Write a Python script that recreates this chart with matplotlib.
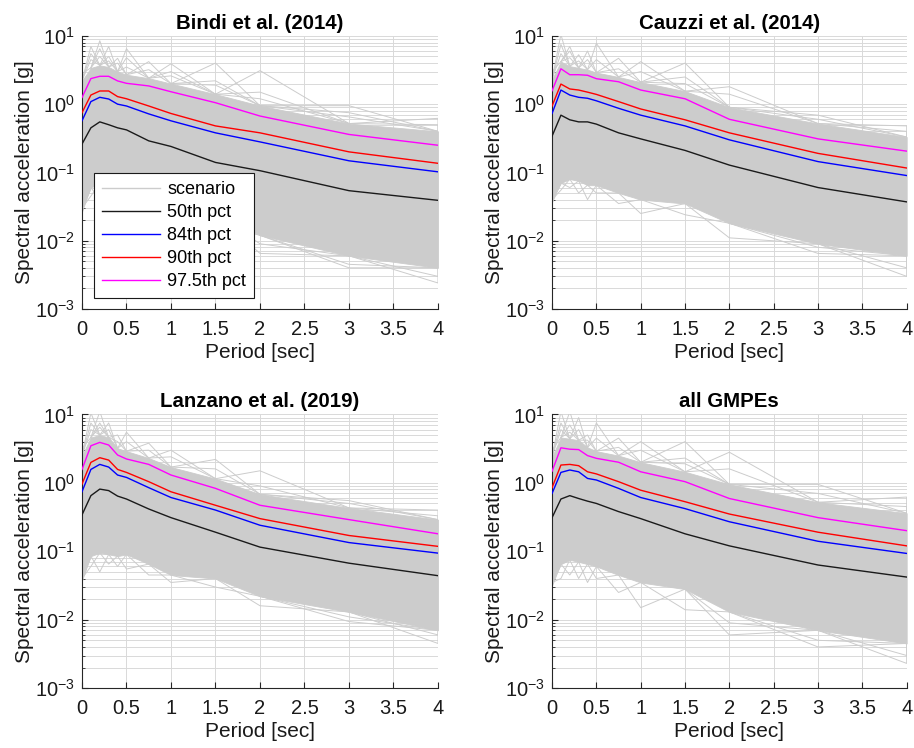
import numpy as np
import matplotlib.pyplot as plt
from matplotlib.ticker import LogLocator, LogFormatterMathtext, NullFormatter

plt.rcParams['font.family'] = ['Liberation Sans', 'DejaVu Sans']
plt.rcParams['mathtext.fontset'] = 'custom'
plt.rcParams['mathtext.rm'] = 'Liberation Sans'
plt.rcParams['mathtext.it'] = 'Liberation Sans:italic'
plt.rcParams['mathtext.bf'] = 'Liberation Sans:bold'

# spectral periods [s]
periods = [0, 0.1, 0.2, 0.3, 0.4, 0.5, 0.75, 1, 1.5, 2, 3, 4]

titles = ['Bindi et al. (2014)', 'Cauzzi et al. (2014)',
          'Lanzano et al. (2019)', 'all GMPEs']

# percentile spectra [g]
p50 = [
    [0.26, 0.45, 0.55, 0.50, 0.45, 0.42, 0.29, 0.24, 0.14, 0.106, 0.054, 0.039],
    [0.34, 0.69, 0.59, 0.55, 0.55, 0.51, 0.38, 0.31, 0.21, 0.128, 0.060, 0.037],
    [0.34, 0.65, 0.81, 0.77, 0.64, 0.58, 0.415, 0.31, 0.19, 0.115, 0.067, 0.044],
    [0.31, 0.58, 0.65, 0.59, 0.54, 0.50, 0.38, 0.30, 0.18, 0.12, 0.063, 0.042],
]
p84 = [
    [0.57, 1.09, 1.26, 1.19, 1.00, 0.94, 0.72, 0.57, 0.38, 0.28, 0.148, 0.102],
    [0.73, 1.61, 1.36, 1.26, 1.22, 1.12, 0.87, 0.69, 0.48, 0.30, 0.144, 0.090],
    [0.74, 1.57, 1.86, 1.70, 1.30, 1.20, 0.85, 0.61, 0.40, 0.24, 0.134, 0.094],
    [0.70, 1.42, 1.54, 1.45, 1.16, 1.10, 0.83, 0.61, 0.42, 0.27, 0.140, 0.093],
]
p90 = [
    [0.75, 1.36, 1.56, 1.56, 1.29, 1.20, 0.94, 0.73, 0.48, 0.38, 0.20, 0.136],
    [0.94, 1.97, 1.67, 1.61, 1.50, 1.39, 1.09, 0.85, 0.59, 0.38, 0.19, 0.116],
    [0.96, 1.99, 2.33, 2.15, 1.57, 1.42, 1.04, 0.74, 0.47, 0.30, 0.17, 0.118],
    [0.85, 1.82, 1.86, 1.78, 1.45, 1.35, 1.04, 0.78, 0.53, 0.35, 0.19, 0.120],
]
p975 = [
    [1.25, 2.37, 2.56, 2.56, 2.19, 2.02, 1.85, 1.52, 1.05, 0.67, 0.36, 0.25],
    [1.57, 3.30, 2.70, 2.70, 2.65, 2.36, 2.13, 1.61, 1.20, 0.60, 0.31, 0.205],
    [1.57, 3.48, 3.90, 3.57, 2.55, 2.23, 1.86, 1.30, 0.83, 0.47, 0.29, 0.18],
    [1.48, 3.25, 3.10, 3.06, 2.50, 2.28, 2.00, 1.45, 1.04, 0.59, 0.31, 0.20],
]

# bulk of the scenario spectra (upper / lower edge)
scen_hi = [
    [2.2, 3.4, 3.7, 3.5, 3.0, 2.7, 2.4, 2.0, 1.4, 0.95, 0.52, 0.40],
    [2.3, 4.2, 3.6, 3.4, 3.2, 2.9, 2.5, 2.1, 1.55, 0.9, 0.52, 0.33],
    [2.5, 4.6, 5.0, 4.6, 3.2, 2.9, 2.3, 1.7, 1.15, 0.68, 0.43, 0.29],
    [2.4, 4.6, 4.4, 4.2, 3.3, 2.9, 2.5, 2.0, 1.45, 0.95, 0.52, 0.36],
]
scen_lo = [
    [0.03, 0.06, 0.07, 0.065, 0.065, 0.065, 0.05, 0.04, 0.025, 0.012, 0.006, 0.004],
    [0.04, 0.07, 0.08, 0.075, 0.065, 0.065, 0.05, 0.04, 0.035, 0.018, 0.009, 0.006],
    [0.04, 0.085, 0.095, 0.09, 0.085, 0.09, 0.065, 0.045, 0.04, 0.022, 0.013, 0.007],
    [0.035, 0.065, 0.075, 0.07, 0.065, 0.06, 0.045, 0.035, 0.028, 0.013, 0.007, 0.0045],
]

# single scenarios sticking out of the bulk: (period index, Sa)
peaks = [
    [(0, 2.8), (1, 7.0), (1, 5.5), (1, 4.5), (2, 8.5), (2, 6.5), (2, 5.0), (3, 7.0),
     (3, 5.0), (3, 4.3), (4, 4.7), (4, 4.0), (5, 6.5), (5, 4.8), (5, 3.5),
     (6, 4.2), (6, 3.2), (7, 3.9), (7, 3.0), (7, 2.6), (8, 4.0), (8, 2.2), (8, 1.9),
     (9, 3.1), (9, 1.5), (9, 1.2), (10, 0.95), (10, 0.75), (10, 0.65),
     (11, 0.62), (11, 0.5)],
    [(0, 3.0), (1, 10.5), (1, 7.5), (1, 5.5), (2, 7.0), (2, 6.0), (2, 4.8),
     (3, 5.3), (3, 4.3), (4, 6.0), (4, 4.5), (5, 7.8), (5, 4.5), (6, 4.7), (6, 3.3),
     (7, 4.2), (7, 3.0), (8, 4.0), (8, 2.5), (8, 2.0), (9, 1.8), (9, 1.4),
     (10, 0.69), (10, 0.6), (11, 0.48), (11, 0.4)],
    [(0, 3.2), (1, 10.5), (1, 7.5), (1, 6.0), (2, 11.0), (2, 7.5), (2, 6.5),
     (3, 7.5), (3, 6.0), (4, 5.0), (4, 4.0), (5, 5.5), (5, 4.0), (6, 3.8), (6, 3.0),
     (7, 3.0), (7, 2.4), (8, 2.2), (8, 1.6), (9, 1.5), (9, 0.9),
     (10, 0.55), (10, 0.5), (11, 0.4), (11, 0.33)],
    [(0, 3.0), (1, 11.0), (1, 7.5), (1, 6.0), (2, 11.0), (2, 7.0), (2, 5.5),
     (3, 9.0), (3, 6.0), (4, 5.0), (4, 4.2), (5, 7.5), (5, 4.5), (6, 4.5), (6, 3.3),
     (7, 4.0), (7, 3.0), (8, 4.0), (8, 2.3), (8, 1.9), (9, 2.8), (9, 1.6),
     (10, 0.95), (10, 0.7), (11, 0.62), (11, 0.45)],
]
dips = [
    [(0, 0.025), (1, 0.045), (2, 0.04), (3, 0.05), (4, 0.045), (5, 0.04), (6, 0.04),
     (7, 0.03), (8, 0.017), (9, 0.0065), (9, 0.009), (10, 0.004), (10, 0.0045),
     (11, 0.0024), (11, 0.003)],
    [(0, 0.035), (1, 0.055), (2, 0.06), (3, 0.05), (4, 0.04), (5, 0.05), (6, 0.035),
     (7, 0.025), (8, 0.024), (9, 0.011), (10, 0.0065), (10, 0.008),
     (11, 0.003), (11, 0.004)],
    [(0, 0.035), (1, 0.06), (2, 0.05), (3, 0.065), (4, 0.06), (5, 0.055), (6, 0.045),
     (7, 0.035), (8, 0.03), (9, 0.016), (10, 0.0094), (10, 0.011),
     (11, 0.0045), (11, 0.006)],
    [(0, 0.03), (1, 0.04), (2, 0.045), (3, 0.04), (4, 0.035), (5, 0.04), (6, 0.025),
     (7, 0.015), (8, 0.014), (9, 0.006), (9, 0.009), (10, 0.004), (10, 0.005),
     (11, 0.0023), (11, 0.003)],
]

GREY = '#cccccc'
AXCOL = '#262626'
TXT = '#1a1a1a'

fig = plt.figure(figsize=(9.14, 7.48), dpi=100)
positions = [
    [0.0897, 0.587, 0.3895, 0.365],
    [0.604, 0.587, 0.388, 0.365],
    [0.0897, 0.080, 0.3895, 0.366],
    [0.604, 0.080, 0.388, 0.366],
]

T = np.array(periods)
n = len(T)


def spike(edge, idx, val):
    # scenario leaving the bulk at one period and coming back
    lo = max(idx - 1, 0)
    hi = min(idx + 1, n - 1)
    xs = [T[lo], T[idx], T[hi]]
    ys = [edge[lo], val, edge[hi]]
    if lo == idx:
        xs, ys = xs[1:], ys[1:]
    return xs, ys


for k in range(4):
    ax = fig.add_axes(positions[k])
    ax.set_yscale('log')

    ax.fill_between(T, scen_lo[k], scen_hi[k], color=GREY, lw=0.6, zorder=2)
    for idx, val in peaks[k]:
        xs, ys = spike(scen_hi[k], idx, val)
        ax.plot(xs, ys, color=GREY, lw=0.7, zorder=2)
    for idx, val in dips[k]:
        xs, ys = spike(scen_lo[k], idx, val)
        ax.plot(xs, ys, color=GREY, lw=0.7, zorder=2)
    ax.plot([], [], color=GREY, lw=1.0, label='scenario')

    ax.plot(T, p50[k], color=TXT, lw=1.0, zorder=3, label='50th pct')
    ax.plot(T, p84[k], color='#0000ff', lw=1.0, zorder=3, label='84th pct')
    ax.plot(T, p90[k], color='#ff0000', lw=1.0, zorder=3, label='90th pct')
    ax.plot(T, p975[k], color='#ff00ff', lw=1.0, zorder=3, label='97.5th pct')

    ax.set_xlim(0, 4)
    ax.set_ylim(1e-3, 1e1)
    ax.set_xticks(np.arange(0, 4.01, 0.5))
    ax.set_xticklabels(['0', '0.5', '1', '1.5', '2', '2.5', '3', '3.5', '4'])
    ax.yaxis.set_major_locator(LogLocator(base=10, numticks=10))
    ax.yaxis.set_major_formatter(LogFormatterMathtext())
    ax.yaxis.set_minor_locator(LogLocator(base=10, subs=np.arange(2, 10), numticks=20))
    ax.yaxis.set_minor_formatter(NullFormatter())

    ax.grid(True, which='major', color='#d9d9d9', lw=0.7, zorder=0)
    ax.grid(True, which='minor', axis='y', color='#d9d9d9', lw=0.7, zorder=0)
    ax.set_axisbelow(True)

    for side in ['top', 'right']:
        ax.spines[side].set_visible(False)
    for side in ['left', 'bottom']:
        ax.spines[side].set_color(AXCOL)
        ax.spines[side].set_linewidth(0.8)
    ax.tick_params(which='both', direction='in', colors=AXCOL, labelcolor=TXT,
                   labelsize=14.5)
    ax.tick_params(which='major', length=4)
    ax.tick_params(axis='x', pad=8)
    ax.tick_params(axis='y', pad=5)
    ax.tick_params(which='minor', length=2.5)

    ax.set_xlabel('Period [sec]', fontsize=15, color=TXT, labelpad=3)
    ax.set_ylabel('Spectral acceleration [g]', fontsize=15, color=TXT, labelpad=1)
    ax.set_title(titles[k], fontsize=14.7, fontweight='bold', pad=5)

    if k == 0:
        leg = ax.legend(loc='lower left', bbox_to_anchor=(0.034, 0.04), fontsize=13,
                        frameon=True, fancybox=False, edgecolor=TXT,
                        framealpha=1, handlelength=3.2, handletextpad=0.4,
                        labelspacing=0.33, borderpad=0.45, borderaxespad=0)
        leg.get_frame().set_linewidth(0.8)

fig.savefig('out.png', dpi=100)
